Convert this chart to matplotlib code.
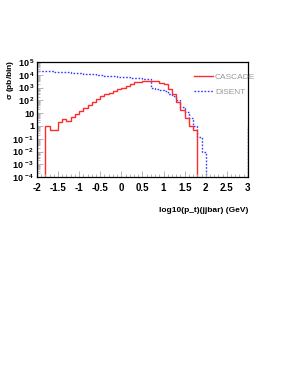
import matplotlib.pyplot as plt
import numpy as np
from matplotlib.ticker import FixedLocator, MultipleLocator, LogLocator, NullFormatter

plt.rcParams['font.family'] = ['Liberation Sans', 'DejaVu Sans']
plt.rcParams['mathtext.fontset'] = 'custom'
plt.rcParams['mathtext.rm'] = 'Liberation Sans:bold'
plt.rcParams['mathtext.it'] = 'Liberation Sans:bold'
plt.rcParams['mathtext.bf'] = 'Liberation Sans:bold'

#% Histogram data (log10 of sigma per bin, bin width 0.1)
bin_width = 0.1
cascade_start = -1.8
cascade_log = [-0.04, -0.35, -0.35, 0.28, 0.51, 0.35, 0.69, 0.96, 1.14, 1.4,
               1.61, 1.87, 2.14, 2.35, 2.48, 2.61, 2.72, 2.87, 3.0, 3.13,
               3.27, 3.4, 3.45, 3.5, 3.55, 3.55, 3.5, 3.37, 3.27, 2.85,
               2.46, 1.87, 1.22, 0.61, -0.04, -0.35]

disent_start = -2.0
disent_log = [4.33, 4.31, 4.29, 4.27, 4.25, 4.23, 4.21, 4.19, 4.16, 4.14,
              4.11, 4.08, 4.06, 4.03, 4.0, 3.97, 3.94, 3.92, 3.89, 3.86,
              3.83, 3.8, 3.77, 3.74, 3.71, 3.68, 3.64, 2.98, 2.88, 2.8,
              2.7, 2.5, 2.35, 2.0, 1.48, 1.09, 0.64, -0.04, -0.83, -2.06]

edge_value = 1.0  # line drawn at the right edge of the axis

x_ticks = [-2, -1.5, -1, -0.5, 0, 0.5, 1, 1.5, 2, 2.5, 3]
x_labels = ['-2', '-1.5', '-1', '-0.5', '0', '0.5', '1', '1.5', '2', '2.5', '3']
y_exps = [5, 4, 3, 2, 1, 0, -1, -2, -3, -4]

red = '#ff2a2a'
blue = '#3a3aff'

fig = plt.figure(figsize=(2.98, 3.85), dpi=100)
ax = fig.add_axes([0.124, 0.540, 0.708, 0.299])

c_vals = 10.0 ** np.array(cascade_log)
c_edges = cascade_start + bin_width * np.arange(len(cascade_log) + 1)
d_vals = 10.0 ** np.array(disent_log)
d_edges = disent_start + bin_width * np.arange(len(disent_log) + 1)

ax.stairs(d_vals, d_edges, baseline=1e-6, color=blue, lw=1.0, ls=(0, (1.2, 1.2)),
          label='DISENT')
ax.stairs(c_vals, c_edges, baseline=1e-6, color=red, lw=1.0, label='CASCADE')
ax.vlines(3, 1e-6, edge_value, color=blue, lw=1.0, ls=(0, (1.2, 1.2)))
ax.vlines(3, 1e-6, edge_value, color=red, lw=0.8)

ax.set_yscale('log')
ax.set_xlim(-2, 3)
ax.set_ylim(1e-4, 1e5)

ax.xaxis.set_major_locator(FixedLocator(x_ticks))
ax.set_xticklabels(x_labels, fontsize=7, fontweight='bold')
ax.xaxis.set_minor_locator(MultipleLocator(0.1))

ylabels = []
for e in y_exps:
    if e == 1:
        ylabels.append('10')
    elif e == 0:
        ylabels.append('1')
    else:
        ylabels.append(r'10$^{\,%d}$' % e)
ax.yaxis.set_major_locator(FixedLocator([10.0 ** e for e in y_exps]))
ax.set_yticklabels(ylabels, fontsize=6.5, fontweight='bold')
ax.yaxis.set_minor_locator(LogLocator(base=10, subs=np.arange(2, 10), numticks=20))
ax.yaxis.set_minor_formatter(NullFormatter())

ax.tick_params(axis='both', which='both', direction='in', top=False, right=False,
               color='#aaaaaa', width=0.6)
ax.tick_params(axis='y', which='major', length=4, pad=2)
ax.tick_params(axis='x', which='major', length=4, pad=4)
ax.tick_params(axis='both', which='minor', length=2)
for s in ax.spines.values():
    s.set_linewidth(0.9)

fig.text(0.035, 0.845, r'$\sigma$ (pb/bin)', fontsize=6, fontweight='bold',
         rotation=90, ha='center', va='top')
ax.set_xlabel('log10(p_t)(jjbar) (GeV)', fontsize=6, fontweight='bold', loc='right',
              labelpad=10)

handles, labels = ax.get_legend_handles_labels()
leg = ax.legend(handles[::-1], labels[::-1], loc='upper left',
                bbox_to_anchor=(0.71, 0.97), frameon=False, fontsize=6,
                handlelength=2.2, handletextpad=0.3, labelspacing=0.9,
                labelcolor='#999999')

fig.savefig('out.png', dpi=100)
